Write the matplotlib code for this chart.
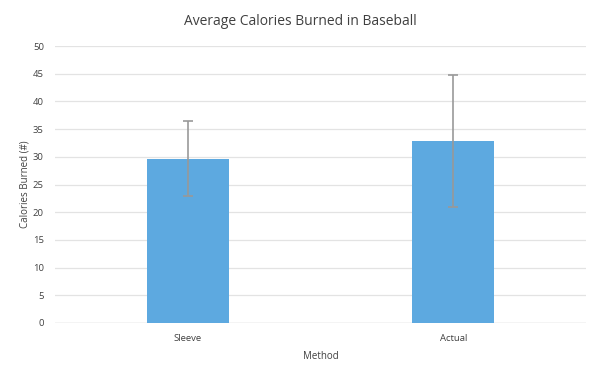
import matplotlib
matplotlib.use("Agg")
import matplotlib.pyplot as plt

categories = ["Sleeve", "Actual"]
values = [29.7, 32.8]
errors = [6.7, 11.9]
yticks = [0, 5, 10, 15, 20, 25, 30, 35, 40, 45, 50]

plt.rcParams['font.family'] = ['Open Sans', 'DejaVu Sans']

fig = plt.figure(figsize=(5.94, 3.75), dpi=100)
ax = fig.add_axes([0.0926, 0.1387, 0.894, 0.7383])

x = list(range(len(categories)))
ax.bar(x, values, width=0.31, color="#5DA9E0", zorder=3)
ax.errorbar(x, values, yerr=errors, fmt="none", ecolor="#999999", elinewidth=1.2,
            capsize=3.5, capthick=1.2, zorder=4)

ax.set_xlim(-0.5, len(categories) - 0.5)
ax.set_ylim(0, 50)
ax.set_yticks(yticks)
ax.set_xticks(x)
ax.set_xticklabels(categories)
ax.grid(axis="y", color="#e3e3e3", linewidth=0.9, zorder=0)
for s in ax.spines.values():
    s.set_visible(False)
ax.axhline(0, color="#d9d9d9", linewidth=1.0, zorder=2)
ax.tick_params(axis="both", length=0, labelsize=6.8, colors="#404040", pad=8)
ax.tick_params(axis="x", pad=8)

fig.suptitle("Average Calories Burned in Baseball", x=0.505, y=0.962, fontsize=10,
             color="#404040")
ax.set_ylabel("Calories Burned (#)", fontsize=7, color="#404040", labelpad=2)
ax.set_xlabel("Method", fontsize=7, color="#404040", labelpad=6)

fig.savefig("out.png", dpi=100)
